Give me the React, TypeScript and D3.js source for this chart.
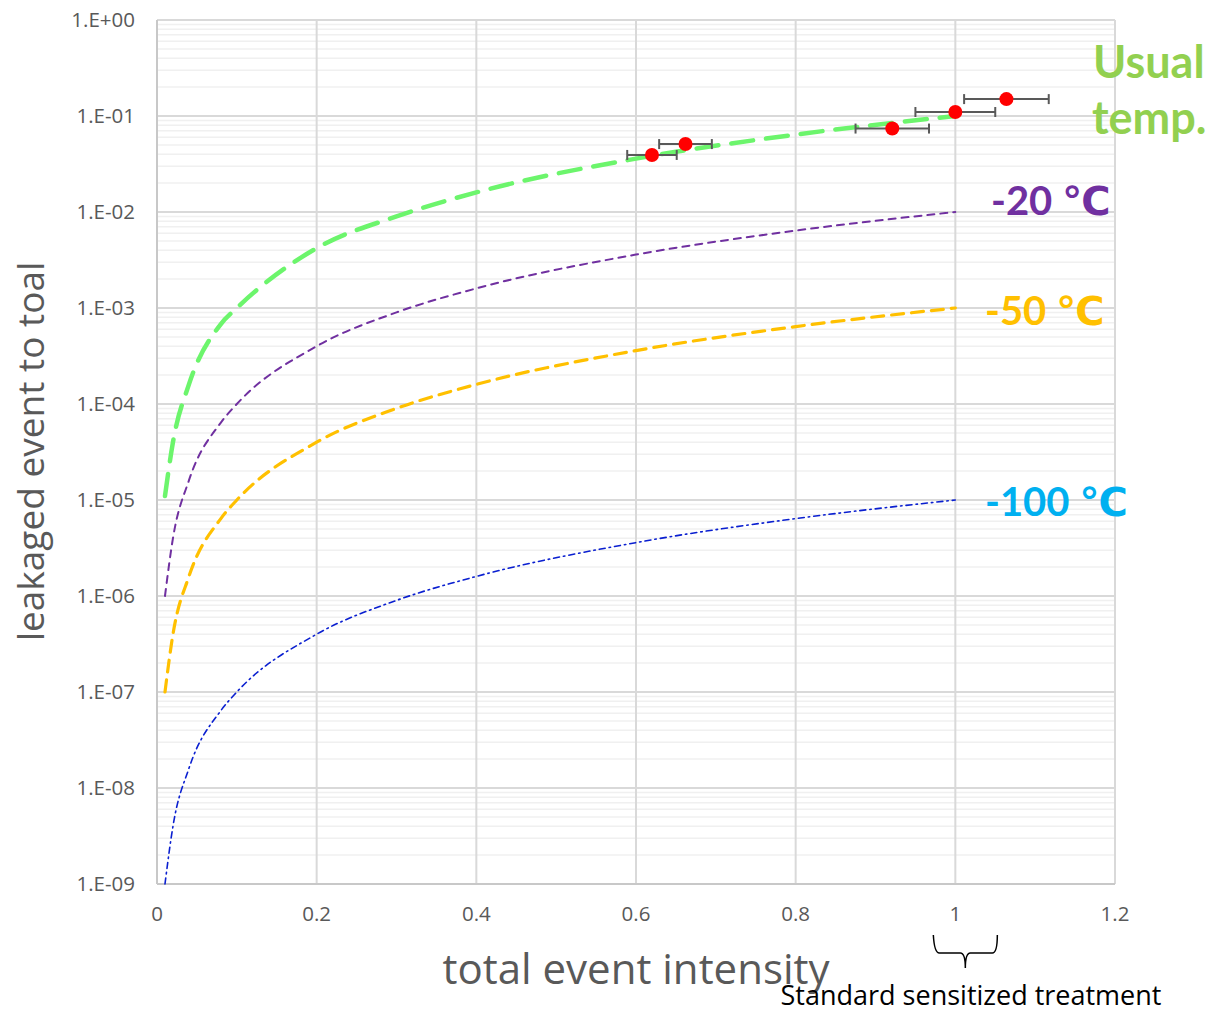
import * as d3 from "d3";

// x positions shared by all curves
const intensity = [0.01, 0.02, 0.04, 0.08, 0.1, 0.2, 0.3, 0.4, 0.6, 0.8, 1];

// leak ratio per temperature
const usualTemp = [1.1e-5, 4e-5, 1.6e-4, 6.8e-4, 1e-3, 4.2e-3, 9e-3, 1.6e-2, 3.6e-2, 6.4e-2, 1e-1];
const minus20 = [1e-6, 4e-6, 1.6e-5, 6.4e-5, 1e-4, 4e-4, 9e-4, 1.6e-3, 3.6e-3, 6.4e-3, 1e-2];
const minus50 = [1e-7, 4e-7, 1.6e-6, 6.4e-6, 1e-5, 4e-5, 9e-5, 1.6e-4, 3.6e-4, 6.4e-4, 1e-3];
const minus100 = [1e-9, 4e-9, 1.6e-8, 6.4e-8, 1e-7, 4e-7, 9e-7, 1.6e-6, 3.6e-6, 6.4e-6, 1e-5];

// measured points
const measX = [0.62, 0.662, 0.921, 1.0, 1.064];
const measY = [0.0393, 0.051, 0.074, 0.11, 0.15];
const measErr = [0.031, 0.033, 0.046, 0.05, 0.053];

const xTicks = [0, 0.2, 0.4, 0.6, 0.8, 1, 1.2];
const yTicks = [1, 1e-1, 1e-2, 1e-3, 1e-4, 1e-5, 1e-6, 1e-7, 1e-8, 1e-9];
const yTickLabels = ["1.E+00", "1.E-01", "1.E-02", "1.E-03", "1.E-04", "1.E-05", "1.E-06", "1.E-07", "1.E-08", "1.E-09"];

const W = 1214;
const H = 1014;
const left = 157, right = 1115, top = 20, bottom = 884;

const font = "'Open Sans', 'DejaVu Sans', sans-serif";
const boldFont = "Lato, 'Open Sans', 'DejaVu Sans', sans-serif";

export default function App() {
  const x = d3.scaleLinear().domain([0, 1.2]).range([left, right]);
  const y = d3.scaleLog().domain([1e-9, 1]).range([bottom, top]);

  const line = d3
    .line<number>()
    .x((_, i) => x(intensity[i]))
    .y((d) => y(d))
    .curve(d3.curveMonotoneX);

  // minor grid: 2..9 of each decade
  const minor: number[] = [];
  for (let e = -9; e < 0; e++) {
    for (let m = 2; m <= 9; m++) minor.push(m * Math.pow(10, e));
  }

  const series = [
    { v: usualTemp, color: "#6CF56C", w: 4.5, dash: "22 13" },
    { v: minus20, color: "#7030A0", w: 2, dash: "7 6" },
    { v: minus50, color: "#FFC000", w: 3.2, dash: "12 8" },
    { v: minus100, color: "#0A1FD0", w: 1.6, dash: "6 4 1.5 4" },
  ];

  const bx = x(1);

  return (
    <svg width={W} height={H} style={{ position: "absolute", left: 0, top: 0 }} fontFamily={font}>
      <rect width={W} height={H} fill="#fff" />
      {/* minor grid */}
      {minor.map((v, i) => (
        <line key={"m" + i} x1={left} x2={right} y1={y(v)} y2={y(v)} stroke="#f0f0f0" strokeWidth={1.5} />
      ))}
      {/* major grid */}
      {yTicks.map((v, i) => (
        <line key={"y" + i} x1={left} x2={right} y1={y(v)} y2={y(v)} stroke="#d9d9d9" strokeWidth={2} />
      ))}
      {xTicks.map((v, i) => (
        <line key={"x" + i} x1={x(v)} x2={x(v)} y1={top} y2={bottom} stroke="#d9d9d9" strokeWidth={2} />
      ))}
      <line x1={left} x2={left} y1={top} y2={bottom} stroke="#c8c8c8" strokeWidth={2} />
      <line x1={left} x2={right} y1={bottom} y2={bottom} stroke="#c8c8c8" strokeWidth={2} />

      {/* tick labels */}
      {yTicks.map((v, i) => (
        <text key={"yl" + i} x={135} y={y(v)} dy="0.35em" textAnchor="end" fontSize={20.5} fill="#595959">
          {yTickLabels[i]}
        </text>
      ))}
      {xTicks.map((v, i) => (
        <text key={"xl" + i} x={x(v)} y={921} textAnchor="middle" fontSize={20.5} fill="#595959">
          {String(v)}
        </text>
      ))}

      {/* curves */}
      {series.map((s, i) => (
        <path
          key={"s" + i}
          d={line(s.v) || ""}
          fill="none"
          stroke={s.color}
          strokeWidth={s.w}
          strokeDasharray={s.dash}
          strokeLinecap="round"
        />
      ))}

      {/* error bars + points */}
      {measX.map((v, i) => {
        const x0 = x(v - measErr[i]);
        const x1 = x(v + measErr[i]);
        const yy = y(measY[i]);
        return (
          <g key={"p" + i}>
            <line x1={x0} x2={x1} y1={yy} y2={yy} stroke="#595959" strokeWidth={2} />
            <line x1={x0} x2={x0} y1={yy - 5} y2={yy + 5} stroke="#595959" strokeWidth={2} />
            <line x1={x1} x2={x1} y1={yy - 5} y2={yy + 5} stroke="#595959" strokeWidth={2} />
          </g>
        );
      })}
      {measX.map((v, i) => (
        <circle key={"c" + i} cx={x(v)} cy={y(measY[i])} r={7} fill="#FF0000" />
      ))}

      {/* series labels */}
      <g fontFamily={boldFont} fontWeight={700}>
        <text x={1093} y={78} fontSize={45} fill="#92D050">Usual</text>
        <text x={1092} y={134} fontSize={45} fill="#92D050">temp.</text>
        <text x={991} y={215} fontSize={40} fill="#7030A0">-20 ℃</text>
        <text x={985} y={325} fontSize={40} fill="#FFC000">-50 ℃</text>
        <text x={985} y={516} fontSize={40} fill="#00B0F0">-100 ℃</text>
      </g>

      {/* axis titles */}
      <text
        transform={`translate(44, ${(263 + 640) / 2}) rotate(-90)`}
        textAnchor="middle"
        fontSize={37}
        fill="#595959"
      >
        leakaged event to toal
      </text>
      <text x={636} y={984} textAnchor="middle" fontSize={42} fill="#595959">
        total event intensity
      </text>

      {/* brace annotation */}
      <path
        d={`M${bx - 22},935 Q${bx - 21},953 ${bx - 16},953 L${bx + 5},953 Q${bx + 10},953 ${bx + 10},968 Q${bx + 10},953 ${bx + 15},953 L${bx + 37},953 Q${bx + 42},953 ${bx + 42},935`}
        fill="none"
        stroke="#000"
        strokeWidth={1.5}
      />
      <text x={971} y={1005} textAnchor="middle" fontSize={27} fill="#000">
        Standard sensitized treatment
      </text>
    </svg>
  );
}
